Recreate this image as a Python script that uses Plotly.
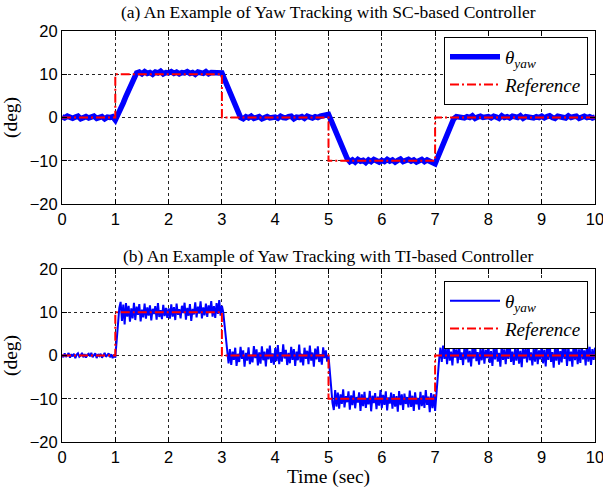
import numpy as np
import plotly.graph_objects as go
from plotly.subplots import make_subplots

# ---- data ----------------------------------------------------------------
# SC-based controller response, sampled every 0.05 s
t_sc = np.linspace(0, 10, 201)
yaw_sc = [
    0.2, -0.1, 0.3, 0.0, -0.2, 0.1, 0.3, -0.3, 0.1, 0.2, -0.1, 0.0, 0.3, -0.2, 0.1, 0.2, -0.3, 0.1, 0.0, 0.2,
    -0.6, 0.6, 2.0, 3.4, 4.9, 6.3, 7.8, 9.3, 10.3, 10.5, 10.1, 10.6, 10.2, 10.4, 10.0, 10.5, 10.3, 10.7, 10.1, 10.4,
    10.3, 10.6, 10.2, 10.5, 10.1, 10.4, 10.3, 10.6, 10.2, 10.4, 10.0, 10.5, 10.3, 10.2, 10.6, 10.1, 10.4, 10.3, 10.5, 10.2,
    10.3, 8.8, 7.2, 5.7, 4.1, 2.6, 1.1, 0.0, -0.3, 0.2, -0.1, 0.3, -0.2, 0.1, 0.2, -0.3, 0.0, 0.2, -0.1, 0.1,
    0.1, -0.2, 0.3, 0.0, -0.1, 0.2, 0.3, -0.3, 0.1, 0.0, 0.2, -0.2, 0.3, 0.1, -0.1, 0.2, 0.0, 0.3, 0.4, 0.6,
    0.7, -0.7, -2.2, -3.7, -5.2, -6.7, -8.2, -9.5, -10.2, -9.8, -10.3, -9.7, -10.1, -9.9, -10.4, -9.8, -10.2, -9.7, -10.0, -10.3,
    -9.9, -10.2, -9.7, -10.1, -9.8, -10.3, -9.9, -9.6, -10.2, -10.0, -9.7, -10.1, -9.8, -10.3, -9.9, -9.7, -10.2, -9.8, -10.1, -10.4,
    -10.7, -9.2, -7.6, -6.0, -4.5, -3.0, -1.6, -0.3, 0.2, 0.1, 0.3, -0.1, 0.2, 0.0, 0.4, -0.2, 0.1, 0.3, 0.0, 0.2,
    0.2, -0.1, 0.3, 0.1, -0.2, 0.4, 0.0, 0.2, -0.1, 0.3, 0.1, 0.0, 0.4, -0.2, 0.2, 0.1, 0.3, -0.1, 0.2, 0.0,
    0.3, -0.1, 0.2, 0.4, 0.0, -0.2, 0.3, 0.1, 0.2, -0.1, 0.4, 0.0, 0.2, 0.3, -0.2, 0.1, 0.3, 0.0, 0.2, -0.1,
    0.1,
]

# TI-based controller response, sampled every 0.025 s
t_ti = np.linspace(0, 10, 401)
yaw_ti = [
    0.2, -0.4, 0.5, -0.3, 0.1, 0.6, -0.5, 0.3, -0.2, 0.4, -0.6, 0.2, 0.5, -0.3, 0.0, 0.6, -0.4, 0.3, -0.5, 0.2,
    0.4, -0.2, 0.6, -0.4, 0.1, 0.5, -0.6, 0.3, -0.1, 0.4, -0.5, 0.2, 0.6, -0.3, 0.1, 0.5, -0.4, 0.3, -0.6, 0.2,
    -0.5, 3.0, 7.5, 11.0, 12.4, 8.0, 11.8, 7.2, 12.1, 9.0, 11.5, 7.8, 10.9, 8.6, 12.2, 8.2, 11.3, 9.4, 11.9, 7.9,
    10.6, 8.8, 12.0, 8.5, 11.1, 9.2, 11.6, 8.1, 10.8, 9.6, 11.4, 8.3, 12.1, 8.9, 10.5, 8.4, 11.7, 9.1, 11.0, 8.7,
    10.9, 8.5, 11.8, 9.0, 11.2, 8.2, 12.0, 9.4, 10.7, 8.6, 11.5, 9.8, 12.2, 8.3, 11.0, 9.2, 11.9, 8.0, 10.8, 9.5,
    12.3, 8.8, 11.3, 9.7, 12.5, 8.6, 11.1, 9.3, 12.0, 8.9, 11.6, 9.9, 12.6, 9.0, 11.4, 8.7, 12.1, 9.6, 12.8, 9.2,
    11.5, 10.0, 7.0, 3.5, 0.8, -1.8, 1.5, -2.2, 0.9, -1.0, 1.8, -2.4, 0.4, -1.5, 2.0, -0.8, 1.2, -2.6, 0.6, -1.2,
    1.9, -2.0, 0.2, -1.6, 2.2, -0.6, 1.4, -2.3, 0.7, -1.9, 2.1, -1.1, 0.9, -2.5, 1.6, -0.9, 2.3, -1.7, 0.5, -2.1,
    1.7, -1.3, 2.4, -2.0, 0.8, -1.4, 2.6, -0.7, 1.3, -2.2, 0.6, -1.8, 2.0, -1.0, 1.5, -2.4, 0.9, -1.1, 2.5, -1.6,
    0.4, -2.3, 1.8, -0.8, 1.1, -2.0, 2.3, -1.2, 0.7, -2.6, 1.6, -0.9, 2.1, -1.5, 0.3, -2.1, 1.9, -0.6, 1.2, -1.4,
    0.0, -4.0, -8.0, -11.0, -12.6, -8.0, -11.8, -8.6, -12.3, -9.0, -11.2, -7.8, -12.0, -9.4, -10.8, -8.3, -12.5, -9.2, -11.5, -8.1,
    -12.2, -9.6, -10.9, -8.5, -12.8, -9.0, -11.7, -8.4, -12.1, -9.8, -11.3, -8.2, -12.9, -9.3, -11.0, -8.7, -12.4, -9.5, -11.6, -8.0,
    -12.2, -9.1, -11.4, -8.3, -12.7, -9.7, -11.1, -8.6, -12.3, -8.9, -11.8, -9.4, -13.0, -8.2, -11.5, -9.0, -12.6, -8.8, -11.2, -9.6,
    -12.0, -8.1, -11.9, -9.3, -12.8, -8.5, -11.3, -9.8, -12.5, -8.4, -11.7, -9.2, -12.1, -8.0, -11.4, -9.5, -13.1, -8.7, -12.2, -9.0,
    -12.8, -8.5, -4.5, -1.0, 1.8, -1.5, 2.3, -0.8, 1.6, -2.0, 2.5, -1.2, 0.9, -2.3, 2.1, -0.5, 1.4, -1.8, 2.4, -1.0,
    0.7, -2.2, 1.9, -0.9, 2.2, -1.6, 1.1, -2.5, 1.7, -0.7, 2.6, -1.3, 0.8, -2.1, 1.5, -1.1, 2.0, -1.9, 1.3, -0.6,
    2.3, -1.7, 1.0, -2.4, 1.8, -0.9, 2.1, -1.4, 0.6, -2.6, 2.5, -1.0, 1.4, -2.0, 1.9, -0.8, 2.7, -1.5, 0.9, -2.2,
    1.6, -1.2, 2.2, -1.9, 1.1, -2.7, 2.0, -0.7, 1.5, -1.6, 2.8, -1.1, 0.7, -2.3, 1.7, -1.4, 2.4, -2.0, 1.2, -0.9,
    2.6, -1.8, 1.3, -2.5, 2.0, -1.0, 2.9, -1.5, 0.8, -2.8, 1.9, -1.2, 2.3, -2.1, 1.0, -1.6, 2.7, -0.8, 1.6, -2.4,
    2.2, -1.3, 0.9, -2.6, 3.0, -1.1, 1.8, -2.0, 1.4, -1.7, 2.5, -0.9, 1.2, -2.3, 2.8, -1.4, 2.0, -2.2, 1.5, -1.0,
    1.8,
]

# Step reference command
t_ref = [0, 1, 1, 3, 3, 5, 5, 7, 7, 10]
ref = [0, 0, 10, 10, 0, 0, -10, -10, 0, 0]

titles = ["(a) An Example of Yaw Tracking with SC-based Controller",
          "(b) An Example of Yaw Tracking with TI-based Controller"]
x_ticks = list(range(0, 11))
y_ticks = [-20, -10, 0, 10, 20]

# ---- figure --------------------------------------------------------------
fig = make_subplots(rows=2, cols=1)

BLUE = "#0000ff"
RED = "#ff0000"
SERIF = "Liberation Serif, Times New Roman, serif"
SANS = "Liberation Sans, Arial, sans-serif"
yaw_name = "<i>θ<sub>yaw</sub></i>"

for row, (tt, yy, lw, leg) in enumerate(
        [(t_sc, yaw_sc, 5.5, "legend"), (t_ti, yaw_ti, 2, "legend2")], start=1):
    fig.add_trace(go.Scatter(x=tt, y=yy, mode="lines", name=yaw_name,
                             line=dict(color=BLUE, width=lw), legend=leg),
                  row=row, col=1)
    fig.add_trace(go.Scatter(x=t_ref, y=ref, mode="lines", name="<i>Reference</i>",
                             line=dict(color=RED, width=2, dash="9px,3px,2px,3px"),
                             legend=leg),
                  row=row, col=1)

x_dom = [62 / 603, 595 / 603]
y_doms = [[1 - 204 / 493, 1 - 31 / 493], [1 - 442 / 493, 1 - 269 / 493]]

axis_common = dict(showline=True, linecolor="black", linewidth=1, mirror="ticks",
                   ticks="inside", ticklen=5, tickcolor="black", automargin=False,
                   showgrid=True, gridcolor="rgba(0,0,0,0.85)", griddash="dot", gridwidth=1,
                   zeroline=False, tickfont=dict(family=SANS, size=16.5, color="black"))

for i in range(2):
    xa = "xaxis" if i == 0 else "xaxis2"
    ya = "yaxis" if i == 0 else "yaxis2"
    fig.update_layout({
        xa: dict(axis_common, domain=x_dom, range=[0, 10], tickvals=x_ticks,
                 ticklabeloverflow="allow"),
        ya: dict(axis_common, domain=y_doms[i], range=[-20, 20], tickvals=y_ticks,
                 ticklabeloverflow="allow",
                 title=dict(text="(deg)", font=dict(family=SERIF, size=19.5, color="black"),
                            standoff=6)),
    })

fig.update_xaxes(title=dict(text="Time (sec)", font=dict(family=SERIF, size=19.5, color="black"),
                            standoff=2), row=2, col=1)

legend_common = dict(bgcolor="white", bordercolor="black", borderwidth=1,
                     font=dict(family=SERIF, size=19, color="black"),
                     xanchor="right", yanchor="top", x=588 / 603,
                     tracegroupgap=0, itemwidth=50)
fig.update_layout(
    legend=dict(legend_common, y=1 - 37 / 493),
    legend2=dict(legend_common, y=1 - 281 / 493),
)

# subplot titles
for text, ypix in zip(titles, [12, 256]):
    fig.add_annotation(text=text, xref="paper", yref="paper",
                       x=(62 + 595) / 2 / 603, y=1 - ypix / 493,
                       xanchor="center", yanchor="middle", showarrow=False,
                       font=dict(family=SERIF, size=17.5, color="black"))

fig.update_layout(width=603, height=493, margin=dict(l=0, r=0, t=0, b=0),
                  plot_bgcolor="white", paper_bgcolor="white", showlegend=True)

fig.write_html("out.html")
